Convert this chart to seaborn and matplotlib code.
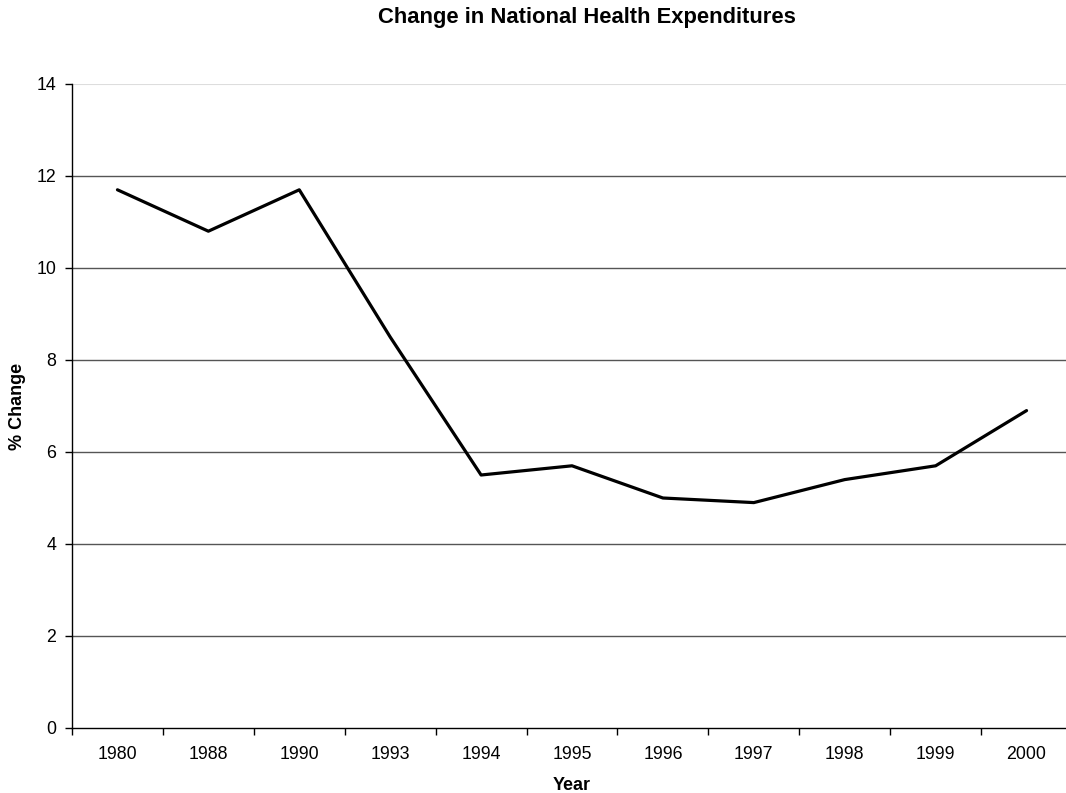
import matplotlib
matplotlib.use("Agg")
import matplotlib.pyplot as plt
import seaborn as sns
import pandas as pd
import numpy as np

years = ["1980", "1988", "1990", "1993", "1994", "1995", "1996", "1997", "1998", "1999", "2000"]
pct_change = [11.7, 10.8, 11.7, 8.5, 5.5, 5.7, 5.0, 4.9, 5.4, 5.7, 6.9]
y_ticks = [0, 2, 4, 6, 8, 10, 12, 14]

sns.set_theme(style="white")
plt.rcParams['font.family'] = ['Liberation Sans', 'DejaVu Sans']
plt.rcParams['text.color'] = 'black'
plt.rcParams['axes.labelcolor'] = 'black'
plt.rcParams['xtick.color'] = 'black'
plt.rcParams['ytick.color'] = 'black'

df = pd.DataFrame({"Year": years, "Change": pct_change})

fig = plt.figure(figsize=(10.66, 7.93), dpi=100)
ax = fig.add_axes([72/1066, 1 - 728/793, 1000/1066, (728 - 84)/793])

for t in y_ticks[1:-1]:
    ax.axhline(t, color="#555555", lw=1.0, zorder=1)
ax.axhline(y_ticks[-1], color="#dddddd", lw=1.5, zorder=1)

sns.lineplot(data=df, x="Year", y="Change", sort=False, color="black", lw=2.3, ax=ax, zorder=3)

ax.set_xlim(-0.5, len(years) - 0.5)
ax.set_ylim(0, 14)
ax.set_yticks(y_ticks)
ax.set_xticks(range(len(years)))
ax.set_xticklabels(years)
ax.set_xticks(np.arange(-0.5, len(years), 1.0), minor=True)
ax.tick_params(axis="x", which="major", length=0, pad=13, labelsize=12.8, labelcolor="black")
ax.tick_params(axis="x", which="minor", length=5, width=1, direction="out", color="black", bottom=True)
ax.tick_params(axis="y", which="major", length=5, width=1, direction="out", color="black", left=True,
               labelsize=12.8, pad=6.5, labelcolor="black")

for s in ["top", "right"]:
    ax.spines[s].set_visible(False)
for s in ["left", "bottom"]:
    ax.spines[s].set_color("black")
    ax.spines[s].set_linewidth(1.0)

ax.set_xlabel("Year", fontsize=13, fontweight="bold", color="black", va="center")
ax.xaxis.set_label_coords(0.5, (728 - 785) / 644)
ax.set_ylabel("% Change", fontsize=13, fontweight="bold", color="black", va="center")
ax.yaxis.set_label_coords((18 - 72) / 1000, 0.5)
fig.text(586.5 / 1066, 1 - 18 / 793, "Change in National Health Expenditures", ha="center", va="center",
         fontsize=15.8, fontweight="bold", color="black")

fig.savefig("out.png", dpi=100, facecolor="white")
